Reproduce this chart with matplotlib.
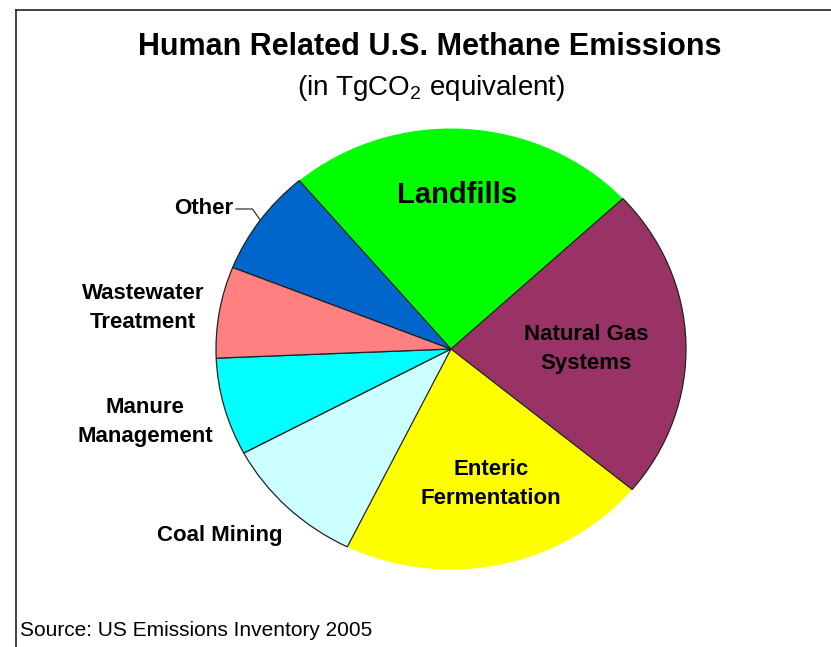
import numpy as np
import matplotlib
matplotlib.use("Agg")
import matplotlib.pyplot as plt
from matplotlib.lines import Line2D

plt.rcParams["font.family"] = ["Liberation Sans", "DejaVu Sans"]
plt.rcParams["mathtext.fontset"] = "custom"
plt.rcParams["mathtext.rm"] = "Liberation Sans"

# Emissions in TgCO2 equivalent
sources = ["Landfills", "Natural Gas\nSystems", "Enteric\nFermentation",
           "Coal Mining", "Manure\nManagement", "Wastewater\nTreatment", "Other"]
values = [132.0, 125.0, 116.0, 54.0, 39.0, 36.5, 42.5]
colors = ["#00FF00", "#993366", "#FFFF00", "#CCFFFF", "#00FFFF", "#FF8080", "#0066CC"]
edge_on = [False, True, False, True, True, True, True]

# label anchors in pie data coords (radius 1)
label_pos = [(0.026, 0.70), (0.574, 0.0), (0.170, -0.612), (-0.715, -0.844),
             (-1.302, -0.331), (-1.311, 0.186), (-0.928, 0.635)]
label_ha = ["center", "center", "center", "right", "center", "center", "right"]

fig = plt.figure(figsize=(8.31, 6.47), dpi=100)
ax = fig.add_axes([216 / 831, 77.5 / 647, 470 / 831, 441 / 647])

wedges, _ = ax.pie(values, colors=colors, startangle=130.2, counterclock=False,
                   radius=1.0, wedgeprops=dict(linewidth=0.9, edgecolor="#222222"))
for w, e in zip(wedges, edge_on):
    if not e:
        w.set_edgecolor("none")
    # outlined wedges sit above the plain ones
    w.set_zorder(2 if e else 1)

ax.set_aspect("auto")
ax.set_xlim(-1, 1)
ax.set_ylim(-1, 1)
ax.axis("off")

for i, (txt, (x, y), ha) in enumerate(zip(sources, label_pos, label_ha)):
    fs = 21 if i == 0 else 16
    ax.text(x, y, txt, ha=ha, va="center", fontsize=fs, fontweight="bold",
            linespacing=1.55, zorder=5, clip_on=False)

# leader line for "Other"
w = wedges[-1]
mid = np.deg2rad((w.theta1 + w.theta2) / 2)
ex, ey = np.cos(mid), np.sin(mid)
ax.plot([-0.915, -0.845, ex], [0.635, 0.635, ey], color="#333333",
        linewidth=0.9, clip_on=False, zorder=5)

fig.text(430 / 831, 1 - 47 / 647, "Human Related U.S. Methane Emissions",
         ha="center", va="center", fontsize=22, fontweight="bold")
fig.text(431 / 831, 1 - 88 / 647, "(in TgCO$_2$ equivalent)",
         ha="center", va="center", fontsize=20)
fig.text(20 / 831, 1 - 631 / 647, "Source: US Emissions Inventory 2005",
         ha="left", va="center", fontsize=15)

# chart frame (top and left edges visible)
fig.add_artist(Line2D([15.5 / 831, 1.0], [1 - 9.5 / 647] * 2, color="#222222", linewidth=1.2))
fig.add_artist(Line2D([15.5 / 831] * 2, [0.0, 1 - 9.5 / 647], color="#222222", linewidth=1.2))

fig.savefig("out.png", dpi=100)
